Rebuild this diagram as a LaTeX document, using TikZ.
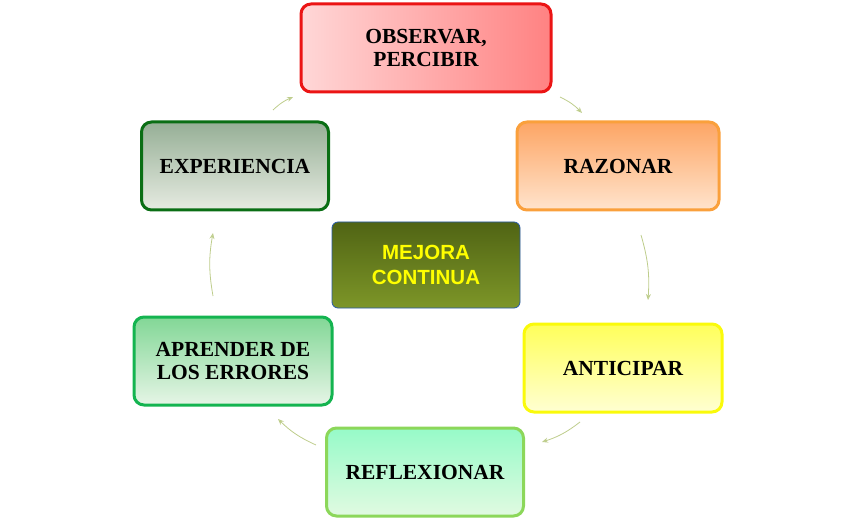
\documentclass[tikz,border=0pt]{standalone}
\usepackage{fontspec}
\setmainfont{Liberation Serif}
\newfontfamily\sansf{Liberation Sans}
\usetikzlibrary{arrows.meta}
\begin{document}
\begin{tikzpicture}[x=1pt,y=-1pt,
  bx/.style={draw,line width=3pt,rounded corners=10pt,minimum width=#1,minimum height=88pt,align=center,font=\fontsize{21.5}{23}\selectfont\bfseries,text=black},
  cyc/.style={-{Stealth[length=6pt,width=5pt,open]},draw={rgb,255:red,190;green,205;blue,140},line width=0.8pt}]
\useasboundingbox (0,0) rectangle (853,521);
\node[bx=250pt,draw={rgb,255:red,235;green,20;blue,20},left color={rgb,255:red,255;green,215;blue,215},right color={rgb,255:red,255;green,130;blue,130}] (obs) at (426,48) {OBSERVAR,\\PERCIBIR};
\node[bx=202pt,draw={rgb,255:red,250;green,160;blue,60},top color={rgb,255:red,253;green,165;blue,100},bottom color={rgb,255:red,255;green,228;blue,205}] (raz) at (618,166) {RAZONAR};
\node[bx=198pt,draw={rgb,255:red,250;green,250;blue,10},top color={rgb,255:red,255;green,255;blue,90},bottom color={rgb,255:red,255;green,255;blue,210}] (ant) at (623,368) {ANTICIPAR};
\node[bx=197pt,draw={rgb,255:red,140;green,215;blue,90},top color={rgb,255:red,150;green,250;blue,200},bottom color={rgb,255:red,225;green,250;blue,225}] (ref) at (425,472) {REFLEXIONAR};
\node[bx=198pt,draw={rgb,255:red,20;green,180;blue,80},top color={rgb,255:red,130;green,215;blue,150},bottom color={rgb,255:red,230;green,245;blue,230}] (apr) at (233,361) {APRENDER DE\\LOS ERRORES};
\node[bx=187pt,draw={rgb,255:red,10;green,110;blue,20},top color={rgb,255:red,150;green,175;blue,150},bottom color={rgb,255:red,230;green,235;blue,225}] (exp) at (235,166) {EXPERIENCIA};
\node[draw={rgb,255:red,40;green,90;blue,170},line width=0.8pt,rounded corners=6pt,minimum width=188pt,minimum height=86pt,align=center,top color={rgb,255:red,80;green,100;blue,20},bottom color={rgb,255:red,125;green,150;blue,40},text={rgb,255:red,255;green,255;blue,0},font=\sansf\fontsize{20.5}{25}\selectfont\bfseries] (mej) at (426,265) {MEJORA\\CONTINUA};
\coordinate (a1) at (560,97); \coordinate (b1) at (582,113);
\coordinate (a2) at (641,235); \coordinate (b2) at (648,300);
\coordinate (a3) at (580,422); \coordinate (b3) at (542,442);
\coordinate (a4) at (316,445); \coordinate (b4) at (278,419);
\coordinate (a5) at (213,296); \coordinate (b5) at (213,233);
\coordinate (a6) at (273,110); \coordinate (b6) at (293,97);
\draw[cyc] (a1) to[bend left=10] (b1);
\draw[cyc] (a2) to[bend left=10] (b2);
\draw[cyc] (a3) to[bend left=10] (b3);
\draw[cyc] (a4) to[bend left=10] (b4);
\draw[cyc] (a5) to[bend left=10] (b5);
\draw[cyc] (a6) to[bend left=10] (b6);
\end{tikzpicture}
\end{document}
